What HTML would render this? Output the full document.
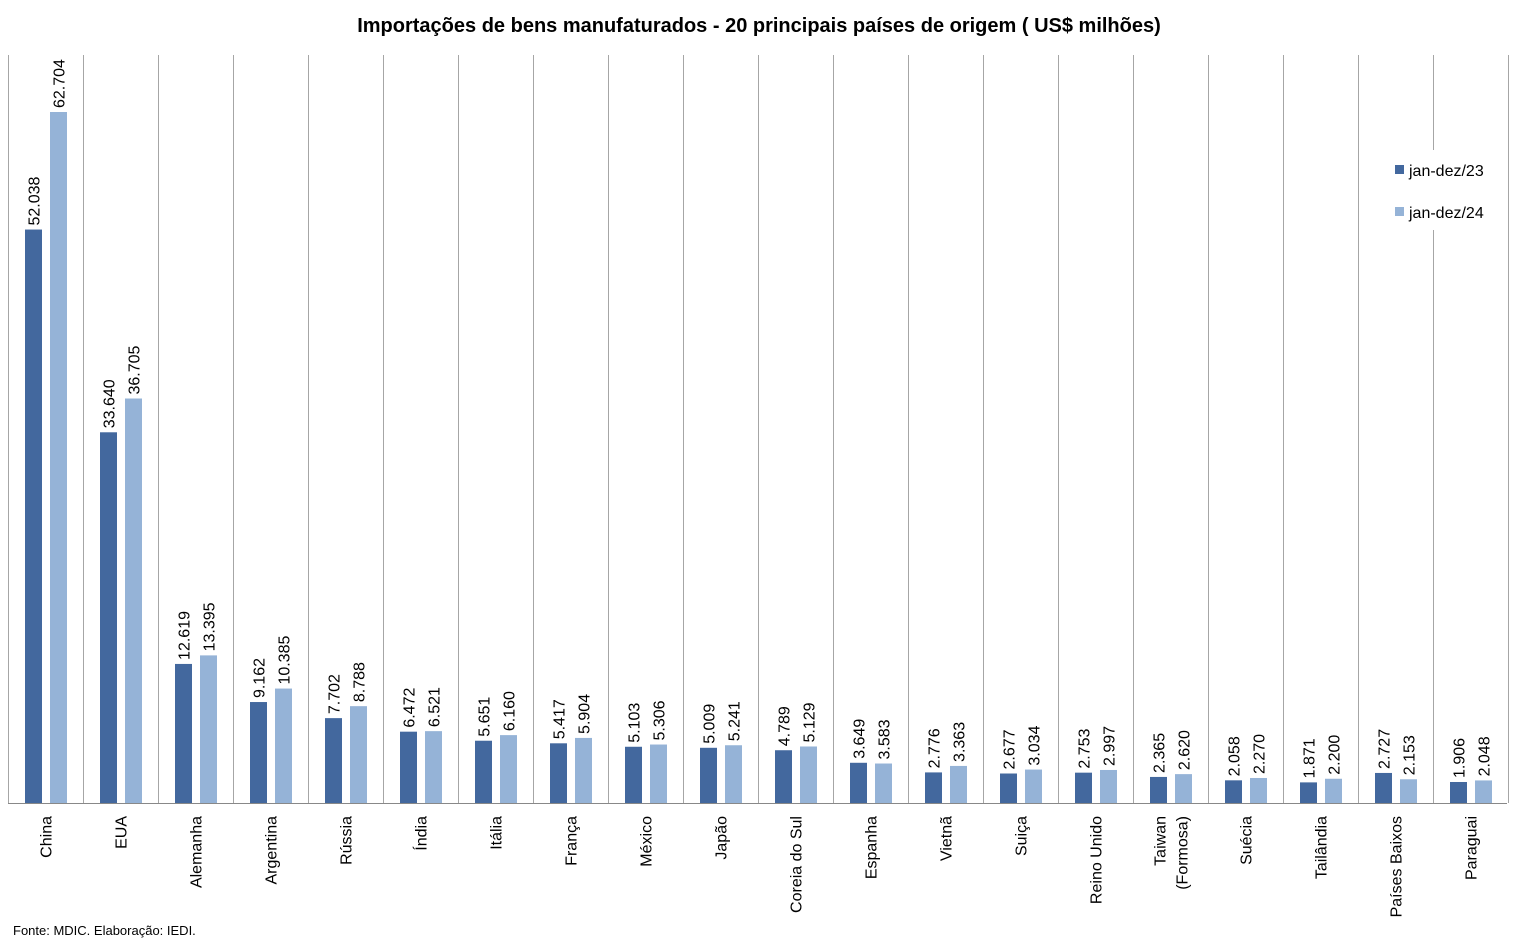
<!DOCTYPE html>
<html><head><meta charset="utf-8"><style>
body{margin:0;background:#fff;}
svg{display:block;font-family:"Liberation Sans",sans-serif;}
</style></head><body>
<svg id="chart" width="1519" height="947" xmlns="http://www.w3.org/2000/svg">
<text x="759" y="32" text-anchor="middle" font-size="20" font-weight="bold" fill="#000">Importações  de bens manufaturados - 20 principais países de origem ( US$ milhões)</text>
<g id="grid"></g>
<g id="bars"></g>
<g id="labels"></g>
<g id="cats"></g>
<line x1="8" y1="803.5" x2="1507" y2="803.5" stroke="#888" stroke-width="1"/>
<g>
<rect x="1392" y="150" width="104" height="80" fill="#fff"/>
<rect x="1395" y="165" width="9" height="9" fill="#43689e"/>
<text x="1409" y="176" font-size="16" fill="#000">jan-dez/23</text>
<rect x="1395" y="207" width="9" height="9" fill="#95b3d7"/>
<text x="1409" y="218" font-size="16" fill="#000">jan-dez/24</text>
</g>
<text x="13" y="935" font-size="13" fill="#000">Fonte: MDIC. Elaboração: IEDI.</text>
</svg>
<script>
const categories=["China","EUA","Alemanha","Argentina","Rússia","Índia","Itália","França","México","Japão","Coreia do Sul","Espanha","Vietnã","Suiça","Reino Unido","Taiwan|(Formosa)","Suécia","Tailândia","Países Baixos","Paraguai"];
const series23=[52038,33640,12619,9162,7702,6472,5651,5417,5103,5009,4789,3649,2776,2677,2753,2365,2058,1871,2727,1906];
const series24=[62704,36705,13395,10385,8788,6521,6160,5904,5306,5241,5129,3583,3363,3034,2997,2620,2270,2200,2153,2048];
const labels23=["52.038","33.640","12.619","9.162","7.702","6.472","5.651","5.417","5.103","5.009","4.789","3.649","2.776","2.677","2.753","2.365","2.058","1.871","2.727","1.906"];
const labels24=["62.704","36.705","13.395","10.385","8.788","6.521","6.160","5.904","5.306","5.241","5.129","3.583","3.363","3.034","2.997","2.620","2.270","2.200","2.153","2.048"];
const NS="http://www.w3.org/2000/svg";
const x0=8,band=75,base=803,yMax=62704,hMax=691;
const xs=i=>x0+i*band;
const ys=v=>base-v/yMax*hMax;
const grid=document.getElementById('grid'),bars=document.getElementById('bars'),lab=document.getElementById('labels'),cats=document.getElementById('cats');
for(let i=0;i<=categories.length;i++){
  const l=document.createElementNS(NS,'line');
  
  
  const x=xs(i)+0.5;
  l.setAttribute('x1',x);l.setAttribute('x2',x);l.setAttribute('y1',55);l.setAttribute('y2',base);
  l.setAttribute('stroke','#a6a6a6');grid.appendChild(l);
}
function bar(i,v,off,col,name,txt){
  const r=document.createElementNS(NS,'rect');
  
  
  const x=xs(i)+off;
  r.setAttribute('x',x);r.setAttribute('y',ys(v));r.setAttribute('width',17);r.setAttribute('height',base-ys(v));r.setAttribute('fill',col);
  bars.appendChild(r);
  const t=document.createElementNS(NS,'text');
  
  
  const cx=x+8.5+6,cy=ys(v)-4;
  t.setAttribute('x',cx);t.setAttribute('y',cy);t.setAttribute('font-size','16');
  t.setAttribute('transform','rotate(-90 '+cx+' '+cy+')');
  t.textContent=txt;lab.appendChild(t);
}
categories.forEach((c,i)=>{
  bar(i,series23[i],17,'#43689e','bar-2023-'+i,labels23[i]);
  bar(i,series24[i],42,'#95b3d7','bar-2024-'+i,labels24[i]);
  const parts=c.split('|');
  parts.forEach((p,j)=>{
    const t=document.createElementNS(NS,'text');
    
    
    const cx=xs(i)+37.5+6+(j-(parts.length-1)/2)*22,cy=816;
    t.setAttribute('x',cx);t.setAttribute('y',cy);t.setAttribute('font-size','16');t.setAttribute('text-anchor','end');
    t.setAttribute('transform','rotate(-90 '+cx+' '+cy+')');
    t.textContent=p;cats.appendChild(t);
  });
});
</script>
</body></html>
